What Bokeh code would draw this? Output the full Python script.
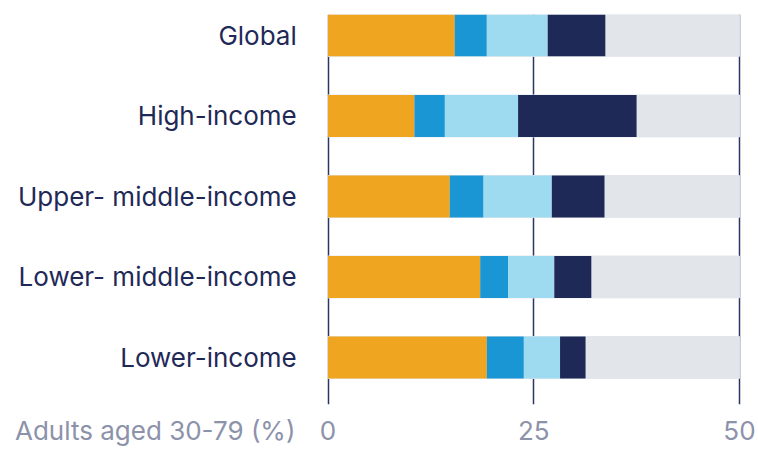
from bokeh.plotting import figure
from bokeh.models import Range1d, FixedTicker, ColumnDataSource
from bokeh.core.properties import value
from bokeh.embed import file_html
from bokeh.resources import INLINE

categories = ["Global", "High-income", "Upper- middle-income", "Lower- middle-income", "Lower-income"]
seg1 = [15.4, 10.5, 14.8, 18.5, 19.3]
seg2 = [3.9, 3.7, 4.1, 3.4, 4.5]
seg3 = [7.4, 8.9, 8.3, 5.6, 4.4]
seg4 = [7.0, 14.4, 6.4, 4.5, 3.1]
axis_max = 50
x_ticks = [0, 25, 50]
x_title = "Adults aged 30-79 (%)"

colors = ["#EFA520", "#1A96D4", "#9EDBF0", "#1F2957"]
navy = "#1F2957"
grey_text = "#8C92AA"
FONT = "Inter"

n = len(categories)
ypos = [n - 1 - i for i in range(n)]
label_x = -3.8     # right edge of category labels (data units, left of zero)
title_tick = -21   # where the axis title sits on the x scale

src = ColumnDataSource(dict(y=ypos, s1=seg1, s2=seg2, s3=seg3, s4=seg4,
                            full=[axis_max] * n, cat=categories,
                            lx=[label_x] * n))

p = figure(width=758, height=451, output_backend="svg", toolbar_location=None,
           x_range=Range1d(-39.8, 50.25), y_range=Range1d(-0.584, 4.26),
           min_border_left=0, min_border_right=17, min_border_top=14, min_border_bottom=47)
p.outline_line_color = None
p.background_fill_color = "white"

p.hbar(y="y", left=0, right="full", height=0.52, color="#E2E5EA", source=src)
p.hbar_stack(["s1", "s2", "s3", "s4"], y="y", height=0.52, color=colors, source=src, line_width=0)

p.text(x="lx", y="y", text="cat", source=src, text_align="right", text_baseline="middle",
       text_font=value(FONT), text_font_size=value("26px"), text_color=navy)

p.xaxis.ticker = FixedTicker(ticks=[title_tick] + x_ticks)
p.xaxis.major_label_overrides = {title_tick: x_title}
p.xaxis.axis_line_color = None
p.xaxis.major_tick_line_color = None
p.xaxis.major_tick_out = 0
p.xaxis.major_tick_in = 0
p.xaxis.minor_tick_line_color = None
p.xaxis.major_label_text_font = FONT
p.xaxis.major_label_text_font_size = "26px"
p.xaxis.major_label_text_color = grey_text
p.xaxis.major_label_standoff = 10

p.yaxis.visible = False
p.ygrid.grid_line_color = None
p.xgrid.ticker = FixedTicker(ticks=x_ticks)
p.xgrid.grid_line_color = "#2B3566"
p.xgrid.grid_line_width = 1.5

open("out.html", "w").write(file_html(p, INLINE))
